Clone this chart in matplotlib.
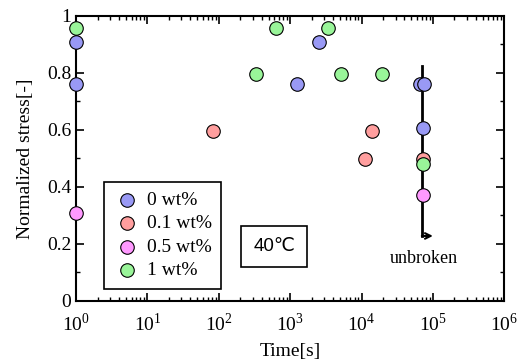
import matplotlib
matplotlib.use("Agg")
import matplotlib.pyplot as plt
from matplotlib.ticker import LogLocator, NullFormatter, MultipleLocator, FuncFormatter, FixedLocator

plt.rcParams['font.family'] = ['Liberation Serif', 'DejaVu Serif']
plt.rcParams['mathtext.fontset'] = 'custom'
plt.rcParams['mathtext.rm'] = 'Liberation Serif'

# data
t_0 = [1, 1, 1250, 2550, 66000, 75000, 73000]
s_0 = [0.91, 0.76, 0.76, 0.91, 0.76, 0.76, 0.605]
t_01 = [83, 14000, 11300, 73000]
s_01 = [0.597, 0.597, 0.497, 0.497]
t_05 = [1, 73000]
s_05 = [0.31, 0.372]
t_1 = [1, 335, 640, 3400, 5200, 19500, 73000]
s_1 = [0.957, 0.797, 0.957, 0.957, 0.797, 0.797, 0.48]
labels = ['0 wt%', '0.1 wt%', '0.5 wt%', '1 wt%']
colors = ['#9999f5', '#ff9e9e', '#ff99ff', '#99f599']
x_ticks = [1e0, 1e1, 1e2, 1e3, 1e4, 1e5, 1e6]
x_ticklabels = ['$10^{0}$', '$10^{1}$', '$10^{2}$', '$10^{3}$', '$10^{4}$', '$10^{5}$', '$10^{6}$']

line_x = 70000
line_y = [0.228, 0.825]
arrow_end = 100000

fig = plt.figure(figsize=(5.28, 3.6), dpi=100)
ax = fig.add_axes([0.144, 0.164, 0.811, 0.792])

ax.plot([line_x, line_x], line_y, color='black', lw=2, zorder=1)
ax.annotate('', xy=(arrow_end, line_y[0]), xytext=(line_x, line_y[0]),
            arrowprops=dict(arrowstyle='->', color='black', lw=1.5,
                            shrinkA=0, shrinkB=0), zorder=1)
ax.text(75000, 0.148, 'unbroken', ha='center', va='center', fontsize=13)

for t, s, lab, c in zip([t_0, t_01, t_05, t_1], [s_0, s_01, s_05, s_1], labels, colors):
    ax.scatter(t, s, s=95, facecolor=c, edgecolor='black', linewidth=0.8,
               label=lab, zorder=3, clip_on=False)

ax.set_xscale('log')
ax.set_xlim(1, 1e6)
ax.set_ylim(0, 1)
ax.yaxis.set_major_locator(MultipleLocator(0.2))
ax.yaxis.set_minor_locator(MultipleLocator(0.1))
ax.yaxis.set_major_formatter(FuncFormatter(lambda v, p: '%g' % round(v, 3)))
ax.set_xticks(x_ticks)
ax.set_xticklabels(x_ticklabels)
ax.xaxis.set_minor_locator(LogLocator(base=10, subs=range(2, 10), numticks=100))
ax.xaxis.set_minor_formatter(NullFormatter())

ax.tick_params(which='both', direction='in', top=True, right=True, labelsize=14)
ax.tick_params(which='major', length=6, width=1.2)
ax.tick_params(which='minor', length=3, width=1)
ax.tick_params(axis='x', pad=8)
for sp in ax.spines.values():
    sp.set_linewidth(1.5)

ax.set_xlabel('Time[s]', fontsize=14, labelpad=6)
ax.set_ylabel('Normalized stress[-]', fontsize=14, labelpad=9)

leg = ax.legend(loc='lower left', bbox_to_anchor=(0.065, 0.042), borderaxespad=0,
                fontsize=14, frameon=True, fancybox=False, edgecolor='black',
                handletextpad=0.3, labelspacing=0.3, borderpad=0.5,
                handlelength=1.4, scatterpoints=1, framealpha=1)
leg.get_frame().set_linewidth(1.2)

ax.text(0.463, 0.19, '40℃', transform=ax.transAxes, ha='center', va='center',
        fontsize=13.5, family=['Liberation Sans', 'DejaVu Sans'],
        bbox=dict(boxstyle='square,pad=0.65', facecolor='white', edgecolor='black', lw=1.2))

fig.savefig('out.png', dpi=100)
